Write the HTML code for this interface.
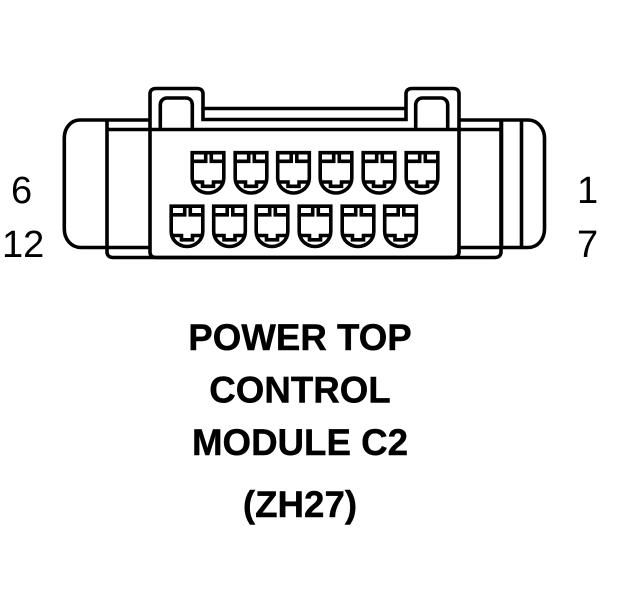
<!DOCTYPE html>
<html>
<head>
<meta charset="utf-8">
<style>
html,body{margin:0;padding:0;background:#fff;width:624px;height:600px;overflow:hidden}
svg{display:block}
text{font-family:"Liberation Sans",sans-serif;fill:#000}
.b{font-weight:bold;font-size:36.7px;text-anchor:middle;stroke:#000;stroke-width:.4px}
.n{font-size:38px}
</style>
</head>
<body>
<svg width="624" height="600" viewBox="0 0 624 600" xmlns="http://www.w3.org/2000/svg">
<defs>
<g id="pin" fill="none" stroke="#000" stroke-width="3.6">
<path d="M1.700 1.700H33.300V27C33.300 35.500 26 42 17.500 42C9 42 1.700 35.500 1.700 27Z"/>
<path d="M1.700 10.300H15.200V1.700M33.300 10.300H20.800V1.700"/>
<path d="M2 31H12V35.300H23V31H33"/>
</g>
</defs>
<g fill="none" stroke="#000" stroke-width="3.600">
<path d="M150 120H80C70 120 64.300 129 64.300 138V229C64.300 239 71 247.500 81 247.500H150"/>
<path d="M107 120V252C107 255.500 109.500 257.500 113 257.500H495C498.500 257.500 501 255.500 501 252V120"/>
<path d="M107 129.500H501"/>
<path d="M150 252V94C150 90.500 152 88.500 156 88.500H197C201 88.500 203 90.500 203 94V119.500H406V94C406 90.500 408 88.500 412 88.500H453C457 88.500 459 90.500 459 94V252C459 255.500 457 257.500 453 257.500H156C152 257.500 150 255.500 150 252Z"/>
<path d="M203 108.500H406"/>
<path d="M160.300 129V105C160.300 101 163 98 167 98H186C190 98 192.300 101 192.300 105V129"/>
<path d="M415.700 129V105C415.700 101 418.500 98 422.500 98H441C445 98 447.700 101 447.700 105V129"/>
<path d="M459 120H528C538 120 544.500 129 544.500 138V229C544.500 239 538 247.500 528 247.500H459"/>
<path d="M501.500 120V247M521.500 120V247"/>
</g>
<use href="#pin" x="190.500" y="151"/>
<use href="#pin" x="233.500" y="151"/>
<use href="#pin" x="276" y="151"/>
<use href="#pin" x="318.500" y="151"/>
<use href="#pin" x="361.500" y="151"/>
<use href="#pin" x="404.500" y="151"/>
<use href="#pin" x="169.500" y="204.500"/>
<use href="#pin" x="212" y="204.500"/>
<use href="#pin" x="254.500" y="204.500"/>
<use href="#pin" x="297.500" y="204.500"/>
<use href="#pin" x="340.500" y="204.500"/>
<use href="#pin" x="383" y="204.500"/>
<text class="n" x="11" y="203">6</text>
<text class="n" x="2" y="257">12</text>
<text class="n" x="577" y="203">1</text>
<text class="n" x="577" y="257">7</text>
<text class="b" x="300" y="350">POWER TOP</text>
<text class="b" x="300" y="402.500">CONTROL</text>
<text class="b" x="300" y="455">MODULE C2</text>
<text class="b" x="300" y="517">(ZH27)</text>
</svg>
</body>
</html>
